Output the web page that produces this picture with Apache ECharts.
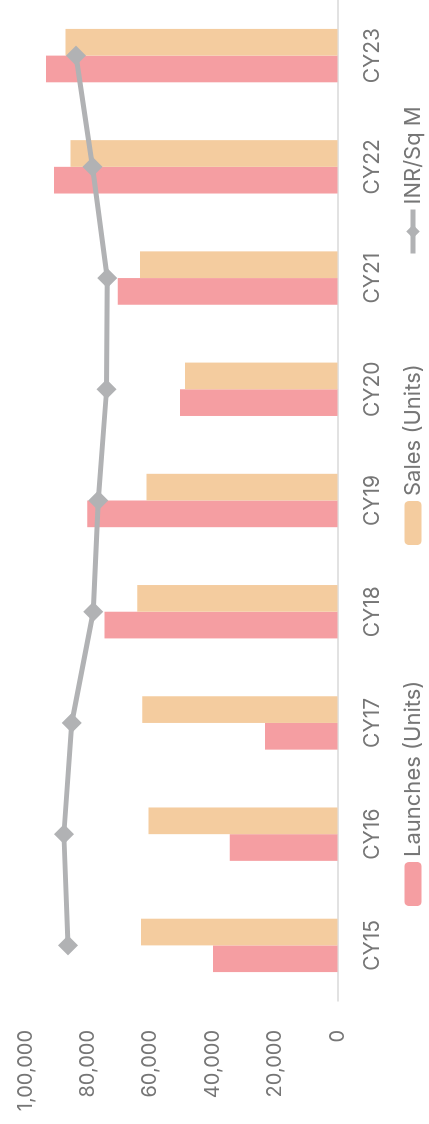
<!DOCTYPE html>
<html>
<head>
<meta charset="utf-8">
<script src="https://cdn.jsdelivr.net/npm/echarts@6/dist/echarts.min.js"></script>
<style>
  html, body { margin: 0; padding: 0; background: #fff; overflow: hidden; }
  /* chart is drawn upright then turned a quarter turn, like the reference */
  #main {
    position: absolute; left: 0; top: 0;
    width: 1124px; height: 429px;
    transform-origin: 0 0;
    transform: translateY(1124px) rotate(-90deg);
  }
</style>
</head>
<body>
<div id="main"></div>
<script>
// data
var years = ['CY15', 'CY16', 'CY17', 'CY18', 'CY19', 'CY20', 'CY21', 'CY22', 'CY23'];
var launches = [39900, 34500, 23200, 74700, 80200, 50500, 70400, 90900, 93400];
var sales = [63000, 60600, 62600, 64200, 61200, 48900, 63300, 85600, 87200];
var inrSqM = [86400, 87700, 85200, 78300, 76700, 74000, 73800, 78500, 83800];
var yTicks = [0, 20000, 40000, 60000, 80000, 100000];
var seriesNames = ['Launches (Units)', 'Sales (Units)', 'INR/Sq M'];

var textColor = '#767676';
var lineColor = '#b1b2b4';
var font = 'Inter, "Open Sans", sans-serif';

// Indian digit grouping: 1,00,000
function inFormat(v) {
    var s = String(Math.round(v));
    if (s.length <= 3) return s;
    var last3 = s.slice(-3);
    var rest = s.slice(0, -3);
    rest = rest.replace(/\B(?=(\d{2})+(?!\d))/g, ',');
    return rest + ',' + last3;
}

// one legend per entry, spread out like the original
var legendLeft = [213, 574, 863];
var legends = seriesNames.map(function (name, i) {
    return {
        bottom: 0,
        left: legendLeft[i],
        itemWidth: 44,
        itemHeight: 17,
        itemGap: 0,
        lineStyle: { width: 5, color: lineColor },
        textStyle: { color: textColor, fontSize: 22, fontFamily: font },
        data: [name]
    };
});

var myChart = echarts.init(document.getElementById('main'));
var options = {
    animation: false,
    textStyle: { fontFamily: font },
    grid: { left: 123, right: 0, top: 25.5, bottom: 91.5 },
    legend: legends,
    xAxis: {
        type: 'category',
        data: years,
        axisLine: { lineStyle: { color: '#d9d9d9', width: 1.5 } },
        axisTick: { show: false },
        axisLabel: { color: textColor, fontSize: 21, margin: 25, fontFamily: font }
    },
    yAxis: {
        type: 'value',
        min: yTicks[0],
        max: yTicks[yTicks.length - 1],
        interval: 20000,
        splitLine: { show: false },
        axisLine: { show: false },
        axisTick: { show: false },
        axisLabel: {
            color: textColor, fontSize: 20, margin: 29, fontFamily: font,
            formatter: inFormat
        }
    },
    series: [
        {
            name: seriesNames[0],
            type: 'bar',
            data: launches,
            barGap: '0%',
            barCategoryGap: '52%',
            itemStyle: { color: '#f59ea2' }
        },
        {
            name: seriesNames[1],
            type: 'bar',
            data: sales,
            itemStyle: { color: '#f4cc9f' }
        },
        {
            name: seriesNames[2],
            type: 'line',
            data: inrSqM,
            symbol: 'diamond',
            symbolSize: 20,
            lineStyle: { color: lineColor, width: 5 },
            itemStyle: { color: lineColor },
            z: 5
        }
    ]
};
myChart.setOption(options, true);
</script>
</body>
</html>
